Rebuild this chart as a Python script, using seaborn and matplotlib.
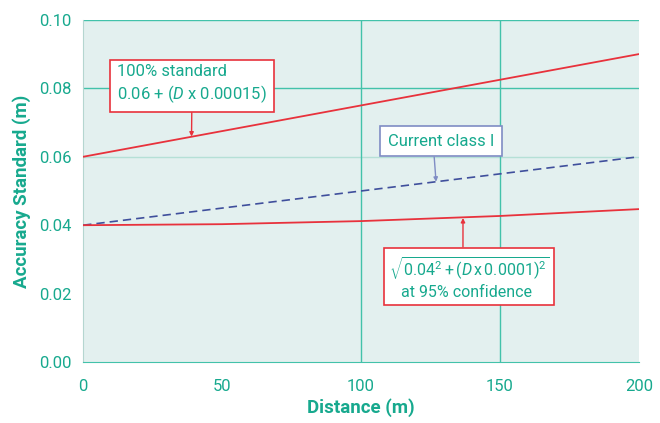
import seaborn as sns
import matplotlib.pyplot as plt
import pandas as pd

# values
distance = [0, 50, 100, 150, 200]
standard_100 = [0.060, 0.0675, 0.075, 0.0825, 0.090]
current_class = [0.040, 0.045, 0.050, 0.055, 0.060]
confidence_95 = [0.040, 0.0403, 0.0412, 0.0427, 0.0447]
x_ticks = [0, 50, 100, 150, 200]
y_ticks = [0.00, 0.02, 0.04, 0.06, 0.08, 0.10]

teal = '#17a98e'
grid = '#43c2aa'
red = '#e8323c'
blue = '#3f4f9c'

sns.set_style('white')
plt.rcParams['font.family'] = ['Roboto', 'DejaVu Sans']
plt.rcParams['font.stretch'] = 'condensed'
plt.rcParams['mathtext.fontset'] = 'custom'
plt.rcParams['mathtext.rm'] = 'Roboto'
plt.rcParams['mathtext.it'] = 'Roboto:italic'

df = pd.DataFrame({'Distance': distance, 'std100': standard_100,
                   'cls1': current_class, 'conf95': confidence_95})

fig = plt.figure(figsize=(6.6, 4.23), dpi=100)
ax = fig.add_axes([0.126, 0.144, 0.842, 0.809])
ax.set_facecolor('#e3f0ef')

# grid lines (only some of them are drawn in the original)
for y, c in [(0.10, grid), (0.08, grid), (0.06, '#b5e0d6')]:
    ax.axhline(y, color=c, lw=1, zorder=1)
for x in [100, 150]:
    ax.axvline(x, color=grid, lw=1, zorder=1)

sns.lineplot(data=df, x='Distance', y='std100', ax=ax, color=red, lw=1.3, zorder=3)
sns.lineplot(data=df, x='Distance', y='cls1', ax=ax, color=blue, lw=1.2,
             linestyle=(0, (5, 3)), zorder=3)
sns.lineplot(data=df, x='Distance', y='conf95', ax=ax, color=red, lw=1.3, zorder=3)

ax.set_xlim(0, 200)
ax.set_ylim(0, 0.10)
ax.set_xticks(x_ticks)
ax.set_yticks(y_ticks)
ax.set_yticklabels([f'{v:.2f}' for v in y_ticks])
ax.tick_params(axis='both', colors=teal, labelsize=12, length=5, width=1)
ax.tick_params(axis='x', length=0, pad=12)

for s in ['top', 'right']:
    ax.spines[s].set_visible(False)
ax.spines['bottom'].set_color(grid)
ax.spines['left'].set_color('#b5d6d0')

ax.set_xlabel('Distance (m)', color=teal, fontsize=13.5, fontweight='bold', labelpad=3)
ax.set_ylabel('Accuracy Standard (m)', color=teal, fontsize=13.5, fontweight='bold', labelpad=6)

box = dict(boxstyle='square,pad=0.4', fc='white', lw=1.2)
arrow = dict(arrowstyle='-|>', lw=1, mutation_scale=6, shrinkA=0, shrinkB=0)

ax.annotate('100% standard\n0.06 + ($\\it{D}$ x 0.00015)', xy=(39, 0.0659), xytext=(39.2, 0.0811),
            ha='center', va='center', multialignment='left', color=teal, fontsize=12,
            linespacing=1.3, bbox=dict(box, ec=red), arrowprops=dict(arrow, color=red))

ax.annotate('Current class I', xy=(127, 0.0527), xytext=(128.8, 0.0645),
            ha='center', va='center', color=teal, fontsize=12,
            bbox=dict(box, ec='#7f8cc4', boxstyle='square,pad=0.45'),
            arrowprops=dict(arrow, color='#7f8cc4', relpos=(0.43, 0)))

ax.annotate('$\\sqrt{0.04^2 + (\\it{D}\\,\\rm{x}\\,0.0001)^2}$\n   at 95% confidence',
            xy=(136.7, 0.0421), xytext=(139, 0.0247),
            ha='center', va='center', multialignment='left', color=teal, fontsize=11.5,
            linespacing=1.2, bbox=dict(box, ec=red, boxstyle='square,pad=0.3'),
            arrowprops=dict(arrow, color=red, relpos=(0.46, 1)))

fig.savefig('out.png', dpi=100)
